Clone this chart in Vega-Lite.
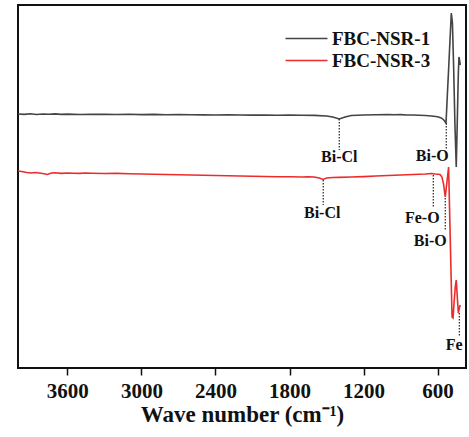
{
  "$schema": "https://vega.github.io/schema/vega-lite/v6.json",
  "width": 448,
  "height": 363,
  "autosize": {"type": "none"},
  "padding": {"left": 18, "top": 5, "right": 3, "bottom": 69},
  "background": "white",
  "config": {
    "view": {"stroke": "#111111", "strokeWidth": 2},
    "font": "'Liberation Serif', 'Times New Roman', serif"
  },
  "datasets": {
    "spectra": [
      {"series": "FBC-NSR-1", "wn": 4000, "v": 254},
      {"series": "FBC-NSR-1", "wn": 3950, "v": 253.6},
      {"series": "FBC-NSR-1", "wn": 3900, "v": 254.2},
      {"series": "FBC-NSR-1", "wn": 3850, "v": 253.5},
      {"series": "FBC-NSR-1", "wn": 3800, "v": 254},
      {"series": "FBC-NSR-1", "wn": 3750, "v": 253.7},
      {"series": "FBC-NSR-1", "wn": 3700, "v": 254.1},
      {"series": "FBC-NSR-1", "wn": 3650, "v": 253.6},
      {"series": "FBC-NSR-1", "wn": 3600, "v": 253.9},
      {"series": "FBC-NSR-1", "wn": 3500, "v": 253.5},
      {"series": "FBC-NSR-1", "wn": 3400, "v": 253.8},
      {"series": "FBC-NSR-1", "wn": 3300, "v": 253.6},
      {"series": "FBC-NSR-1", "wn": 3200, "v": 253.5},
      {"series": "FBC-NSR-1", "wn": 3100, "v": 253.7},
      {"series": "FBC-NSR-1", "wn": 3000, "v": 253.4},
      {"series": "FBC-NSR-1", "wn": 2900, "v": 253.6},
      {"series": "FBC-NSR-1", "wn": 2800, "v": 253.3},
      {"series": "FBC-NSR-1", "wn": 2700, "v": 253.5},
      {"series": "FBC-NSR-1", "wn": 2600, "v": 253.2},
      {"series": "FBC-NSR-1", "wn": 2500, "v": 253.1},
      {"series": "FBC-NSR-1", "wn": 2400, "v": 253},
      {"series": "FBC-NSR-1", "wn": 2300, "v": 253.1},
      {"series": "FBC-NSR-1", "wn": 2200, "v": 253},
      {"series": "FBC-NSR-1", "wn": 2100, "v": 252.9},
      {"series": "FBC-NSR-1", "wn": 2000, "v": 253},
      {"series": "FBC-NSR-1", "wn": 1900, "v": 252.8},
      {"series": "FBC-NSR-1", "wn": 1800, "v": 252.9},
      {"series": "FBC-NSR-1", "wn": 1700, "v": 252.7},
      {"series": "FBC-NSR-1", "wn": 1600, "v": 252.6},
      {"series": "FBC-NSR-1", "wn": 1500, "v": 252},
      {"series": "FBC-NSR-1", "wn": 1450, "v": 251},
      {"series": "FBC-NSR-1", "wn": 1397, "v": 249},
      {"series": "FBC-NSR-1", "wn": 1350, "v": 251},
      {"series": "FBC-NSR-1", "wn": 1300, "v": 252.5},
      {"series": "FBC-NSR-1", "wn": 1250, "v": 252.8},
      {"series": "FBC-NSR-1", "wn": 1200, "v": 253},
      {"series": "FBC-NSR-1", "wn": 1100, "v": 253.2},
      {"series": "FBC-NSR-1", "wn": 1000, "v": 253.5},
      {"series": "FBC-NSR-1", "wn": 950, "v": 253.2},
      {"series": "FBC-NSR-1", "wn": 900, "v": 253.4},
      {"series": "FBC-NSR-1", "wn": 850, "v": 253},
      {"series": "FBC-NSR-1", "wn": 800, "v": 253},
      {"series": "FBC-NSR-1", "wn": 750, "v": 252.7},
      {"series": "FBC-NSR-1", "wn": 700, "v": 252.5},
      {"series": "FBC-NSR-1", "wn": 650, "v": 252},
      {"series": "FBC-NSR-1", "wn": 600, "v": 251.3},
      {"series": "FBC-NSR-1", "wn": 570, "v": 250},
      {"series": "FBC-NSR-1", "wn": 550, "v": 248},
      {"series": "FBC-NSR-1", "wn": 532, "v": 245},
      {"series": "FBC-NSR-1", "wn": 520, "v": 276},
      {"series": "FBC-NSR-1", "wn": 510, "v": 301},
      {"series": "FBC-NSR-1", "wn": 500, "v": 327},
      {"series": "FBC-NSR-1", "wn": 489, "v": 355},
      {"series": "FBC-NSR-1", "wn": 480, "v": 345},
      {"series": "FBC-NSR-1", "wn": 470, "v": 300},
      {"series": "FBC-NSR-1", "wn": 460, "v": 245},
      {"series": "FBC-NSR-1", "wn": 449, "v": 201},
      {"series": "FBC-NSR-1", "wn": 440, "v": 250},
      {"series": "FBC-NSR-1", "wn": 432, "v": 295},
      {"series": "FBC-NSR-1", "wn": 427, "v": 311},
      {"series": "FBC-NSR-1", "wn": 420, "v": 306},
      {"series": "FBC-NSR-1", "wn": 416, "v": 303},
      {"series": "FBC-NSR-3", "wn": 4000, "v": 197},
      {"series": "FBC-NSR-3", "wn": 3970, "v": 196.5},
      {"series": "FBC-NSR-3", "wn": 3930, "v": 195.5},
      {"series": "FBC-NSR-3", "wn": 3900, "v": 195},
      {"series": "FBC-NSR-3", "wn": 3860, "v": 195.5},
      {"series": "FBC-NSR-3", "wn": 3800, "v": 194.5},
      {"series": "FBC-NSR-3", "wn": 3760, "v": 193.5},
      {"series": "FBC-NSR-3", "wn": 3730, "v": 195},
      {"series": "FBC-NSR-3", "wn": 3700, "v": 195.2},
      {"series": "FBC-NSR-3", "wn": 3650, "v": 194.6},
      {"series": "FBC-NSR-3", "wn": 3600, "v": 195},
      {"series": "FBC-NSR-3", "wn": 3550, "v": 194.8},
      {"series": "FBC-NSR-3", "wn": 3500, "v": 194.6},
      {"series": "FBC-NSR-3", "wn": 3450, "v": 195},
      {"series": "FBC-NSR-3", "wn": 3400, "v": 194.8},
      {"series": "FBC-NSR-3", "wn": 3300, "v": 194.5},
      {"series": "FBC-NSR-3", "wn": 3200, "v": 194.6},
      {"series": "FBC-NSR-3", "wn": 3100, "v": 194.2},
      {"series": "FBC-NSR-3", "wn": 3000, "v": 194},
      {"series": "FBC-NSR-3", "wn": 2900, "v": 193.8},
      {"series": "FBC-NSR-3", "wn": 2800, "v": 193.5},
      {"series": "FBC-NSR-3", "wn": 2700, "v": 193.3},
      {"series": "FBC-NSR-3", "wn": 2600, "v": 193},
      {"series": "FBC-NSR-3", "wn": 2500, "v": 192.8},
      {"series": "FBC-NSR-3", "wn": 2400, "v": 192.5},
      {"series": "FBC-NSR-3", "wn": 2300, "v": 192.3},
      {"series": "FBC-NSR-3", "wn": 2200, "v": 192},
      {"series": "FBC-NSR-3", "wn": 2100, "v": 191.8},
      {"series": "FBC-NSR-3", "wn": 2000, "v": 191.5},
      {"series": "FBC-NSR-3", "wn": 1900, "v": 191.3},
      {"series": "FBC-NSR-3", "wn": 1800, "v": 191.2},
      {"series": "FBC-NSR-3", "wn": 1700, "v": 191},
      {"series": "FBC-NSR-3", "wn": 1650, "v": 191.2},
      {"series": "FBC-NSR-3", "wn": 1600, "v": 191},
      {"series": "FBC-NSR-3", "wn": 1560, "v": 190},
      {"series": "FBC-NSR-3", "wn": 1527, "v": 188.5},
      {"series": "FBC-NSR-3", "wn": 1500, "v": 190},
      {"series": "FBC-NSR-3", "wn": 1450, "v": 190.5},
      {"series": "FBC-NSR-3", "wn": 1400, "v": 190.6},
      {"series": "FBC-NSR-3", "wn": 1300, "v": 191},
      {"series": "FBC-NSR-3", "wn": 1200, "v": 191.4},
      {"series": "FBC-NSR-3", "wn": 1100, "v": 192},
      {"series": "FBC-NSR-3", "wn": 1000, "v": 192.5},
      {"series": "FBC-NSR-3", "wn": 900, "v": 193},
      {"series": "FBC-NSR-3", "wn": 800, "v": 193.5},
      {"series": "FBC-NSR-3", "wn": 700, "v": 194},
      {"series": "FBC-NSR-3", "wn": 650, "v": 194.5},
      {"series": "FBC-NSR-3", "wn": 620, "v": 194},
      {"series": "FBC-NSR-3", "wn": 580, "v": 193.5},
      {"series": "FBC-NSR-3", "wn": 565, "v": 191},
      {"series": "FBC-NSR-3", "wn": 552, "v": 184},
      {"series": "FBC-NSR-3", "wn": 538, "v": 171},
      {"series": "FBC-NSR-3", "wn": 528, "v": 182},
      {"series": "FBC-NSR-3", "wn": 511, "v": 201},
      {"series": "FBC-NSR-3", "wn": 500, "v": 142},
      {"series": "FBC-NSR-3", "wn": 490, "v": 88},
      {"series": "FBC-NSR-3", "wn": 483, "v": 51},
      {"series": "FBC-NSR-3", "wn": 475, "v": 50},
      {"series": "FBC-NSR-3", "wn": 465, "v": 68},
      {"series": "FBC-NSR-3", "wn": 456, "v": 82},
      {"series": "FBC-NSR-3", "wn": 449, "v": 88},
      {"series": "FBC-NSR-3", "wn": 440, "v": 70},
      {"series": "FBC-NSR-3", "wn": 432, "v": 55},
      {"series": "FBC-NSR-3", "wn": 424, "v": 60},
      {"series": "FBC-NSR-3", "wn": 416, "v": 63}
    ],
    "marks": [
      {"label": "Bi-Cl", "wn": 1397, "v1": 249, "v2": 218, "lx": 1397, "ly": 211},
      {"label": "Bi-O", "wn": 530, "v1": 245, "v2": 219, "lx": 643, "ly": 212},
      {"label": "Bi-Cl", "wn": 1527, "v1": 188, "v2": 163, "lx": 1535, "ly": 155},
      {"label": "Fe-O", "wn": 635, "v1": 193, "v2": 161, "lx": 724, "ly": 150},
      {"label": "Bi-O", "wn": 538, "v1": 170, "v2": 137, "lx": 660, "ly": 127},
      {"label": "Fe", "wn": 424, "v1": 55, "v2": 32, "lx": 465, "ly": 23}
    ]
  },
  "layer": [
    {
      "data": {"name": "spectra"},
      "mark": {"type": "line", "strokeWidth": 1.6, "clip": true},
      "encoding": {
        "x": {
          "field": "wn", "type": "quantitative",
          "scale": {"domain": [370, 4000], "reverse": true, "nice": false, "zero": false},
          "axis": {
            "values": [3600, 3000, 2400, 1800, 1200, 600],
            "format": "d",
            "grid": false, "domain": false,
            "ticks": true, "tickSize": 7, "tickWidth": 1.5, "tickColor": "#111111",
            "labelFont": "'Liberation Serif', 'Times New Roman', serif", "labelFontWeight": "bold", "labelFontSize": 21,
            "labelColor": "#111111", "labelPadding": 5,
            "title": "Wave number (cm⁻¹)",
            "titleFont": "'Liberation Serif', 'Times New Roman', serif", "titleFontWeight": "bold", "titleFontSize": 23,
            "titleColor": "#111111", "titlePadding": 2
          }
        },
        "y": {
          "field": "v", "type": "quantitative",
          "scale": {"domain": [0, 363], "nice": false, "zero": false},
          "axis": null
        },
        "color": {
          "field": "series", "type": "nominal",
          "scale": {"domain": ["FBC-NSR-1", "FBC-NSR-3"], "range": ["#444444", "#ec2c2c"]},
          "legend": {
            "title": null, "orient": "none", "legendX": 279, "legendY": 24,
            "padding": 0, "symbolType": "M-3,0H3", "symbolSize": 196, "symbolStrokeWidth": 1.5,
            "labelFont": "'Liberation Serif', 'Times New Roman', serif", "labelFontWeight": "bold", "labelFontSize": 19,
            "labelColor": "#111111", "labelOffset": 16, "rowPadding": 2
          }
        }
      }
    },
    {
      "data": {"name": "marks"},
      "mark": {"type": "rule", "color": "#222222", "strokeWidth": 1.2, "strokeDash": [1.5, 1.5]},
      "encoding": {
        "x": {"field": "wn", "type": "quantitative"},
        "y": {"field": "v1", "type": "quantitative"},
        "y2": {"field": "v2"}
      }
    },
    {
      "data": {"name": "marks"},
      "mark": {"type": "text", "font": "'Liberation Serif', 'Times New Roman', serif", "fontWeight": "bold", "fontSize": 16, "color": "#111111", "baseline": "middle", "align": "center"},
      "encoding": {
        "x": {"field": "lx", "type": "quantitative"},
        "y": {"field": "ly", "type": "quantitative"},
        "text": {"field": "label"}
      }
    }
  ]
}
